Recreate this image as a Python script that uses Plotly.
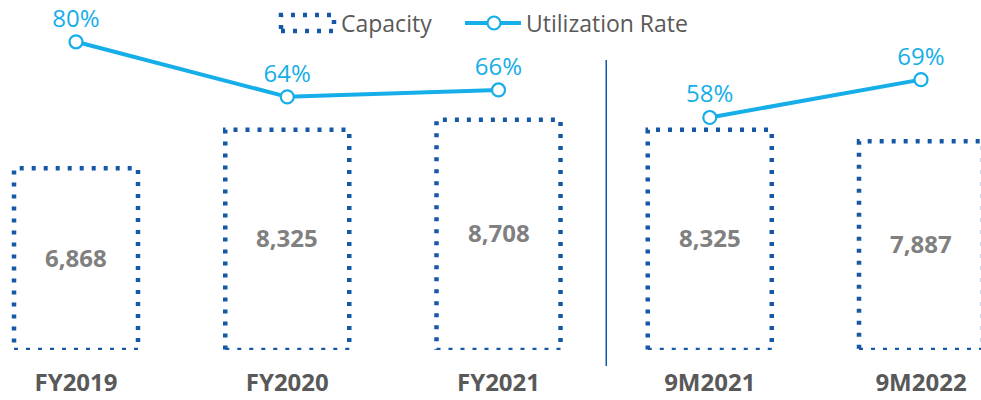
import plotly.graph_objects as go

categories = ["FY2019", "FY2020", "FY2021", "9M2021", "9M2022"]
capacity = [6868, 8325, 8708, 8325, 7887]
capacity_labels = ["6,868", "8,325", "8,708", "8,325", "7,887"]
utilization = [80, 64, 66, 58, 69]
legend_names = ["Capacity", "Utilization Rate"]

pos = list(range(len(categories)))
half = 0.2935
BLUE = "#1558a8"
CYAN = "#16aee8"
W, PH = 981.0, 350.0  # figure width, plot-area height (px)

# dotted rectangle outlines for capacity bars
rx, ry = [], []
for p, v in zip(pos, capacity):
    rx += [p - half, p + half, p + half, p - half, p - half, None]
    ry += [0, 0, v, v, 0, None]

# utilization line broken between FY and 9M groups
ux, uy, ut = [], [], []
for i, (p, u) in enumerate(zip(pos, utilization)):
    if i == 3:
        ux.append(None); uy.append(None); ut.append("")
    ux.append(p); uy.append(u); ut.append(f"{u}%")

fig = go.Figure()
fig.add_trace(go.Scatter(
    x=rx, y=ry, name=legend_names[0], mode="lines",
    line=dict(color=BLUE, width=4.5, dash="4px,8px"),
    hoverinfo="skip", showlegend=False,
))
fig.add_trace(go.Scatter(
    x=ux, y=uy, name=legend_names[1], mode="lines+markers+text",
    text=ut, textposition="top center",
    textfont=dict(family="Open Sans", size=24, color=CYAN),
    line=dict(color=CYAN, width=4),
    marker=dict(size=13, color="white", line=dict(color=CYAN, width=2.2)),
    yaxis="y2", connectgaps=False, showlegend=False,
))

# value labels centred in each capacity bar
for p, v, lab in zip(pos, capacity, capacity_labels):
    fig.add_annotation(x=p, y=v / 2, text=lab, showarrow=False, yshift=2,
                       font=dict(family="Open Sans", size=24, color="#808080",
                                 weight="bold"))

# group divider
fig.add_shape(type="line", xref="x", yref="paper", x0=2.51, x1=2.51,
              y0=-16 / PH, y1=290 / PH, line=dict(color=BLUE, width=1.5))

# custom legend (dotted rectangle icon + line/marker icon)
def px_x(v):
    return v / W

def px_y(v):
    return (PH - v) / PH

fig.add_shape(type="rect", xref="paper", yref="paper",
              x0=px_x(281), x1=px_x(334), y0=px_y(31), y1=px_y(15),
              line=dict(color=BLUE, width=4.5, dash="4px,8px"))
fig.add_shape(type="line", xref="paper", yref="paper",
              x0=px_x(465), x1=px_x(521), y0=px_y(23), y1=px_y(23),
              line=dict(color=CYAN, width=4))
fig.add_shape(type="circle", xref="paper", yref="paper",
              x0=px_x(487.5), x1=px_x(500.5), y0=px_y(29.5), y1=px_y(16.5),
              fillcolor="white", line=dict(color=CYAN, width=2.2))
fig.add_annotation(xref="paper", yref="paper", x=px_x(339), y=px_y(23),
                   xanchor="left", yanchor="middle", showarrow=False,
                   text=legend_names[0],
                   font=dict(family="Open Sans", size=23, color="#595959"))
fig.add_annotation(xref="paper", yref="paper", x=px_x(524), y=px_y(23),
                   xanchor="left", yanchor="middle", showarrow=False,
                   text=legend_names[1],
                   font=dict(family="Open Sans", size=23, color="#595959"))

fig.update_layout(
    width=981, height=400,
    margin=dict(l=0, r=0, t=0, b=50),
    plot_bgcolor="white", paper_bgcolor="white",
    font=dict(family="Open Sans", color="#595959"),
    showlegend=False,
    xaxis=dict(range=[-0.3598, 4.284], tickvals=pos, ticktext=categories,
               showgrid=False, zeroline=False, showline=False,
               ticklabelstandoff=16,
               tickfont=dict(size=24, color="#595959", weight="bold")),
    yaxis=dict(range=[0, 13230], visible=False),
    yaxis2=dict(range=[-9.59, 92.15], overlaying="y", visible=False),
)

fig.write_html("out.html", config={"displayModeBar": False},
               post_script="document.body.style.margin='0px';")
